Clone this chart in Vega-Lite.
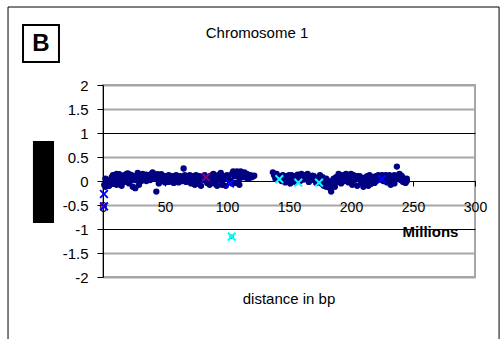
{
  "$schema": "https://vega.github.io/schema/vega-lite/v6.json",
  "width": 372,
  "height": 192,
  "autosize": {"type": "none"},
  "padding": {"left": 103, "top": 85, "right": 27, "bottom": 62},
  "background": "white",
  "config": {
    "font": "Liberation Sans",
    "view": {"stroke": "#a6a6a6", "strokeWidth": 2}
  },
  "datasets": {
    "one": [{}],
    "pts": [
      {"p":1,"r":-0.08,"s":"n"},{"p":2,"r":-0.12,"s":"n"},{"p":3,"r":-0.05,"s":"n"},{"p":4,"r":-0.1,"s":"n"},{"p":5,"r":0.02,"s":"n"},{"p":6,"r":-0.03,"s":"n"},{"p":7,"r":0.08,"s":"n"},{"p":8,"r":-0.06,"s":"n"},{"p":9,"r":0.12,"s":"n"},{"p":10,"r":0.05,"s":"n"},
      {"p":11,"r":-0.08,"s":"n"},{"p":12,"r":0.1,"s":"n"},{"p":13,"r":0.14,"s":"n"},{"p":14,"r":0.03,"s":"n"},{"p":15,"r":-0.1,"s":"n"},{"p":16,"r":0.06,"s":"n"},{"p":17,"r":0.12,"s":"n"},{"p":18,"r":-0.02,"s":"n"},{"p":19,"r":0.15,"s":"n"},{"p":20,"r":0.08,"s":"n"},
      {"p":21,"r":-0.05,"s":"n"},{"p":22,"r":0.13,"s":"n"},{"p":23,"r":0.02,"s":"n"},{"p":24,"r":-0.12,"s":"n"},{"p":25,"r":0.1,"s":"n"},{"p":26,"r":-0.15,"s":"n"},{"p":27,"r":0.05,"s":"n"},{"p":28,"r":0.17,"s":"n"},{"p":29,"r":0.08,"s":"n"},{"p":30,"r":0.12,"s":"n"},
      {"p":31,"r":0.0,"s":"n"},{"p":32,"r":0.15,"s":"n"},{"p":33,"r":0.1,"s":"n"},{"p":34,"r":0.05,"s":"n"},{"p":35,"r":0.13,"s":"n"},{"p":36,"r":0.07,"s":"n"},{"p":37,"r":0.12,"s":"n"},{"p":38,"r":0.02,"s":"n"},{"p":39,"r":0.15,"s":"n"},{"p":40,"r":0.18,"s":"n"},
      {"p":41,"r":0.1,"s":"n"},{"p":42,"r":0.06,"s":"n"},{"p":43,"r":-0.22,"s":"n"},{"p":44,"r":0.14,"s":"n"},{"p":45,"r":-0.05,"s":"n"},{"p":46,"r":0.08,"s":"n"},{"p":47,"r":0.0,"s":"n"},{"p":48,"r":0.1,"s":"n"},{"p":49,"r":0.05,"s":"n"},{"p":50,"r":-0.03,"s":"n"},
      {"p":51,"r":0.09,"s":"n"},{"p":52,"r":0.03,"s":"n"},{"p":53,"r":-0.02,"s":"n"},{"p":54,"r":0.07,"s":"n"},{"p":55,"r":0.01,"s":"n"},{"p":56,"r":0.05,"s":"n"},{"p":57,"r":-0.04,"s":"n"},{"p":58,"r":0.08,"s":"n"},{"p":59,"r":0.02,"s":"n"},{"p":60,"r":0.06,"s":"n"},
      {"p":61,"r":-0.03,"s":"n"},{"p":62,"r":0.04,"s":"n"},{"p":63,"r":0.09,"s":"n"},{"p":64,"r":0.0,"s":"n"},{"p":65,"r":0.26,"s":"n"},{"p":66,"r":0.05,"s":"n"},{"p":67,"r":-0.02,"s":"n"},{"p":68,"r":0.08,"s":"n"},{"p":69,"r":0.03,"s":"n"},{"p":70,"r":0.12,"s":"n"},
      {"p":71,"r":-0.05,"s":"n"},{"p":72,"r":0.02,"s":"n"},{"p":73,"r":0.06,"s":"n"},{"p":74,"r":-0.08,"s":"n"},{"p":75,"r":0.04,"s":"n"},{"p":76,"r":0.1,"s":"n"},{"p":77,"r":-0.06,"s":"n"},{"p":78,"r":0.05,"s":"n"},{"p":79,"r":-0.1,"s":"n"},{"p":80,"r":0.08,"s":"n"},
      {"p":81,"r":0.02,"s":"n"},{"p":82,"r":0.12,"s":"n"},{"p":84,"r":-0.04,"s":"n"},{"p":85,"r":0.05,"s":"n"},{"p":86,"r":-0.08,"s":"n"},{"p":87,"r":0.1,"s":"n"},{"p":88,"r":0.03,"s":"n"},{"p":89,"r":0.15,"s":"n"},{"p":90,"r":-0.05,"s":"n"},
      {"p":91,"r":0.08,"s":"n"},{"p":92,"r":-0.1,"s":"n"},{"p":93,"r":0.12,"s":"n"},{"p":94,"r":0.02,"s":"n"},{"p":95,"r":0.17,"s":"n"},{"p":96,"r":-0.08,"s":"n"},{"p":97,"r":0.1,"s":"n"},{"p":98,"r":0.05,"s":"n"},{"p":99,"r":-0.1,"s":"n"},{"p":100,"r":0.12,"s":"n"},
      {"p":101,"r":0.06,"s":"n"},{"p":103,"r":0.0,"s":"n"},{"p":104,"r":-0.05,"s":"n"},{"p":105,"r":0.2,"s":"n"},{"p":106,"r":0.1,"s":"n"},{"p":107,"r":-0.04,"s":"n"},{"p":108,"r":0.2,"s":"n"},{"p":109,"r":0.14,"s":"n"},{"p":110,"r":0.05,"s":"n"},
      {"p":111,"r":0.2,"s":"n"},{"p":112,"r":0.16,"s":"n"},{"p":113,"r":0.08,"s":"n"},{"p":114,"r":0.18,"s":"n"},{"p":115,"r":0.12,"s":"n"},{"p":116,"r":0.15,"s":"n"},{"p":117,"r":0.1,"s":"n"},{"p":118,"r":0.06,"s":"n"},{"p":119,"r":0.12,"s":"n"},{"p":120,"r":0.08,"s":"n"},{"p":121,"r":0.1,"s":"n"},{"p":122,"r":0.11,"s":"n"},
      {"p":2,"r":0.05,"s":"n"},{"p":5,"r":-0.1,"s":"n"},{"p":8,"r":0.12,"s":"n"},{"p":11,"r":0.15,"s":"n"},{"p":14,"r":-0.05,"s":"n"},{"p":17,"r":0.0,"s":"n"},{"p":20,"r":0.16,"s":"n"},{"p":23,"r":0.12,"s":"n"},{"p":26,"r":0.02,"s":"n"},{"p":29,"r":-0.08,"s":"n"},
      {"p":32,"r":0.05,"s":"n"},{"p":35,"r":0.0,"s":"n"},{"p":38,"r":0.12,"s":"n"},{"p":41,"r":0.15,"s":"n"},{"p":44,"r":0.05,"s":"n"},{"p":47,"r":0.14,"s":"n"},{"p":50,"r":0.1,"s":"n"},{"p":53,"r":0.12,"s":"n"},{"p":56,"r":0.1,"s":"n"},{"p":59,"r":0.12,"s":"n"},
      {"p":62,"r":0.1,"s":"n"},{"p":66,"r":0.12,"s":"n"},{"p":69,"r":0.1,"s":"n"},{"p":72,"r":0.1,"s":"n"},{"p":75,"r":0.12,"s":"n"},{"p":78,"r":0.1,"s":"n"},{"p":81,"r":0.06,"s":"n"},{"p":88,"r":0.12,"s":"n"},{"p":91,"r":0.02,"s":"n"},{"p":94,"r":0.1,"s":"n"},
      {"p":97,"r":0.02,"s":"n"},{"p":100,"r":0.05,"s":"n"},{"p":104,"r":0.15,"s":"n"},{"p":110,"r":-0.08,"s":"n"},{"p":116,"r":0.06,"s":"n"},
      {"p":137,"r":0.18,"s":"n"},{"p":138,"r":0.12,"s":"n"},{"p":139,"r":0.05,"s":"n"},{"p":140,"r":0.15,"s":"n"},{"p":141,"r":0.08,"s":"n"},{"p":143,"r":0.1,"s":"n"},{"p":144,"r":0.0,"s":"n"},{"p":145,"r":0.12,"s":"n"},{"p":146,"r":0.06,"s":"n"},{"p":147,"r":-0.03,"s":"n"},
      {"p":148,"r":0.1,"s":"n"},{"p":149,"r":0.04,"s":"n"},{"p":150,"r":0.08,"s":"n"},{"p":151,"r":-0.05,"s":"n"},{"p":152,"r":0.12,"s":"n"},{"p":153,"r":0.02,"s":"n"},{"p":154,"r":0.09,"s":"n"},{"p":155,"r":-0.02,"s":"n"},{"p":156,"r":0.05,"s":"n"},{"p":157,"r":0.13,"s":"n"},
      {"p":158,"r":0.07,"s":"n"},{"p":159,"r":0.0,"s":"n"},{"p":160,"r":0.15,"s":"n"},{"p":161,"r":0.08,"s":"n"},{"p":162,"r":0.03,"s":"n"},{"p":163,"r":0.12,"s":"n"},{"p":164,"r":0.06,"s":"n"},{"p":165,"r":0.1,"s":"n"},{"p":166,"r":-0.02,"s":"n"},{"p":167,"r":0.08,"s":"n"},
      {"p":168,"r":0.04,"s":"n"},{"p":169,"r":0.11,"s":"n"},{"p":170,"r":0.02,"s":"n"},{"p":171,"r":0.07,"s":"n"},{"p":172,"r":-0.04,"s":"n"},{"p":173,"r":0.05,"s":"n"},{"p":175,"r":0.03,"s":"n"},{"p":176,"r":-0.05,"s":"n"},{"p":177,"r":0.08,"s":"n"},{"p":178,"r":-0.1,"s":"n"},
      {"p":179,"r":0.02,"s":"n"},{"p":180,"r":-0.12,"s":"n"},{"p":181,"r":-0.06,"s":"n"},{"p":182,"r":0.0,"s":"n"},{"p":183,"r":-0.15,"s":"n"},{"p":184,"r":-0.22,"s":"n"},{"p":185,"r":-0.08,"s":"n"},{"p":186,"r":0.05,"s":"n"},{"p":187,"r":-0.12,"s":"n"},{"p":188,"r":0.08,"s":"n"},
      {"p":189,"r":-0.02,"s":"n"},{"p":190,"r":0.1,"s":"n"},{"p":191,"r":0.04,"s":"n"},{"p":192,"r":-0.05,"s":"n"},{"p":193,"r":0.12,"s":"n"},{"p":194,"r":0.06,"s":"n"},{"p":195,"r":0.0,"s":"n"},{"p":196,"r":0.15,"s":"n"},{"p":197,"r":0.08,"s":"n"},{"p":198,"r":-0.03,"s":"n"},
      {"p":199,"r":0.1,"s":"n"},{"p":200,"r":0.05,"s":"n"},{"p":201,"r":-0.08,"s":"n"},{"p":202,"r":0.12,"s":"n"},{"p":203,"r":0.02,"s":"n"},{"p":204,"r":0.08,"s":"n"},{"p":205,"r":-0.1,"s":"n"},{"p":206,"r":0.06,"s":"n"},{"p":207,"r":0.1,"s":"n"},{"p":208,"r":-0.05,"s":"n"},
      {"p":209,"r":0.03,"s":"n"},{"p":210,"r":-0.12,"s":"n"},{"p":211,"r":0.07,"s":"n"},{"p":212,"r":0.0,"s":"n"},{"p":213,"r":0.1,"s":"n"},{"p":214,"r":-0.1,"s":"n"},{"p":215,"r":0.05,"s":"n"},{"p":216,"r":-0.06,"s":"n"},{"p":217,"r":0.08,"s":"n"},{"p":218,"r":0.02,"s":"n"},
      {"p":219,"r":-0.04,"s":"n"},{"p":220,"r":0.1,"s":"n"},{"p":221,"r":0.05,"s":"n"},{"p":222,"r":0.12,"s":"n"},{"p":223,"r":0.03,"s":"n"},{"p":225,"r":0.08,"s":"n"},{"p":226,"r":0.0,"s":"n"},{"p":227,"r":0.1,"s":"n"},{"p":228,"r":0.12,"s":"n"},{"p":229,"r":-0.03,"s":"n"},
      {"p":230,"r":0.06,"s":"n"},{"p":231,"r":0.12,"s":"n"},{"p":232,"r":-0.08,"s":"n"},{"p":233,"r":0.04,"s":"n"},{"p":234,"r":0.1,"s":"n"},{"p":235,"r":-0.05,"s":"n"},{"p":236,"r":0.07,"s":"n"},{"p":237,"r":0.3,"s":"n"},{"p":238,"r":0.05,"s":"n"},{"p":239,"r":0.15,"s":"n"},
      {"p":240,"r":0.02,"s":"n"},{"p":241,"r":0.1,"s":"n"},{"p":242,"r":-0.02,"s":"n"},{"p":243,"r":0.05,"s":"n"},{"p":244,"r":-0.04,"s":"n"},{"p":245,"r":0.0,"s":"n"},
      {"p":140,"r":0.1,"s":"n"},{"p":145,"r":0.05,"s":"n"},{"p":150,"r":0.12,"s":"n"},{"p":155,"r":0.1,"s":"n"},{"p":160,"r":0.05,"s":"n"},{"p":165,"r":0.15,"s":"n"},{"p":170,"r":0.1,"s":"n"},{"p":175,"r":0.12,"s":"n"},{"p":180,"r":0.05,"s":"n"},{"p":185,"r":0.0,"s":"n"},
      {"p":190,"r":0.15,"s":"n"},{"p":195,"r":0.1,"s":"n"},{"p":200,"r":0.15,"s":"n"},{"p":205,"r":0.1,"s":"n"},{"p":210,"r":0.05,"s":"n"},{"p":215,"r":0.12,"s":"n"},{"p":220,"r":0.0,"s":"n"},{"p":225,"r":0.12,"s":"n"},{"p":230,"r":0.1,"s":"n"},{"p":235,"r":0.12,"s":"n"},{"p":240,"r":0.12,"s":"n"},{"p":245,"r":0.05,"s":"n"},
      {"p":0.6,"r":-0.52,"s":"red"},{"p":103.8,"r":-1.16,"s":"red"},
      {"p":0.8,"r":-0.27,"s":"blue"},{"p":0.8,"r":-0.53,"s":"blue"},{"p":102.4,"r":-0.05,"s":"blue"},{"p":224.7,"r":0.04,"s":"blue"},
      {"p":83,"r":0.08,"s":"purple"},
      {"p":103.8,"r":-1.16,"s":"cyan"},{"p":142.2,"r":0.04,"s":"cyan"},{"p":157.5,"r":-0.035,"s":"cyan"},{"p":174.2,"r":-0.035,"s":"cyan"}
    ]
  },
  "layer": [
    {
      "data": {"name": "pts"},
      "transform": [{"filter": "datum.s === 'n'"}],
      "mark": {"type": "circle", "size": 40, "color": "#000080", "opacity": 1},
      "encoding": {
        "x": {"field": "p", "type": "quantitative", "scale": {"domain": [0, 300], "nice": false, "zero": false},
          "axis": {"orient": "bottom", "offset": -96, "values": [0, 50, 100, 150, 200, 250, 300], "tickCount": 20, "grid": false, "domainColor": "black", "tickColor": "black", "tickSize": 5, "labelFontSize": 14, "labelColor": "black", "labelPadding": 14, "labelFlush": false, "labelOverlap": false,
            "title": "Millions", "titleFontSize": 15, "titleFontWeight": "bold", "titleColor": "black", "titleX": 327, "titleY": 50, "titleBaseline": "middle", "titleAlign": "center", "titleAngle": 0}},
        "y": {"field": "r", "type": "quantitative", "scale": {"domain": [-2, 2], "nice": false, "zero": false},
          "axis": {"values": [-2, -1.5, -1, -0.5, 0, 0.5, 1, 1.5, 2], "tickCount": 20, "grid": true, "labelOverlap": false, "labelFlush": false,
            "gridColor": {"condition": {"test": "datum.value % 1 === 0 && abs(datum.value) < 2", "value": "black"}, "value": "#a6a6a6"},
            "gridWidth": {"condition": {"test": "datum.value % 1 === 0 && abs(datum.value) < 2", "value": 1}, "value": 2},
            "domainColor": "black", "tickColor": "black", "tickSize": 6, "labelFontSize": 15, "labelColor": "black", "labelPadding": 9, "labelExpr": "'' + datum.value", "title": null}}
      }
    },
    {
      "data": {"name": "pts"},
      "transform": [{"filter": "datum.s === 'red'"}],
      "mark": {"type": "circle", "size": 20, "color": "#ff0000", "opacity": 1},
      "encoding": {"x": {"field": "p", "type": "quantitative"}, "y": {"field": "r", "type": "quantitative"}}
    },
    {
      "data": {"name": "pts"},
      "transform": [{"filter": "datum.s !== 'n' && datum.s !== 'red'"}],
      "mark": {"type": "point", "shape": "M-1,-1L1,1M1,-1L-1,1", "size": 60, "filled": false, "strokeWidth": 2, "opacity": 1},
      "encoding": {
        "x": {"field": "p", "type": "quantitative"},
        "y": {"field": "r", "type": "quantitative"},
        "color": {"field": "s", "type": "nominal", "scale": {"domain": ["blue", "cyan", "purple"], "range": ["#0000ff", "#00ffff", "#800080"]}, "legend": null}
      }
    },
    {
      "data": {"name": "one"},
      "mark": {"type": "rect", "color": "black"},
      "encoding": {"x": {"datum": -56.5, "type": "quantitative"}, "x2": {"datum": -39.5}, "y": {"datum": 0.833, "type": "quantitative"}, "y2": {"datum": -0.875}}
    },
    {
      "data": {"name": "one"},
      "mark": {"type": "rect", "fill": "white", "fillOpacity": 0, "stroke": "black", "strokeWidth": 1},
      "encoding": {"x": {"datum": -76.6, "type": "quantitative"}, "x2": {"datum": 319.4}, "y": {"datum": 3.625, "type": "quantitative"}, "y2": {"datum": -3.5}}
    },
    {
      "data": {"name": "one"},
      "mark": {"type": "rect", "fill": "white", "stroke": "black", "strokeWidth": 2},
      "encoding": {"x": {"datum": -64.5, "type": "quantitative"}, "x2": {"datum": -35.5}, "y": {"datum": 3.25, "type": "quantitative"}, "y2": {"datum": 2.479}}
    },
    {
      "data": {"name": "one"},
      "mark": {"type": "text", "text": "B", "fontSize": 24, "fontWeight": "bold", "color": "black", "align": "center", "baseline": "middle"},
      "encoding": {"x": {"datum": -50, "type": "quantitative"}, "y": {"datum": 2.86, "type": "quantitative"}}
    },
    {
      "data": {"name": "one"},
      "mark": {"type": "text", "text": "Chromosome 1", "fontSize": 15, "color": "black", "align": "center", "baseline": "middle"},
      "encoding": {"x": {"datum": 124.2, "type": "quantitative"}, "y": {"datum": 3.08, "type": "quantitative"}}
    },
    {
      "data": {"name": "one"},
      "mark": {"type": "text", "text": "distance in bp", "fontSize": 15, "color": "black", "align": "center", "baseline": "middle"},
      "encoding": {"x": {"datum": 150, "type": "quantitative"}, "y": {"datum": -2.46, "type": "quantitative"}}
    }
  ]
}
